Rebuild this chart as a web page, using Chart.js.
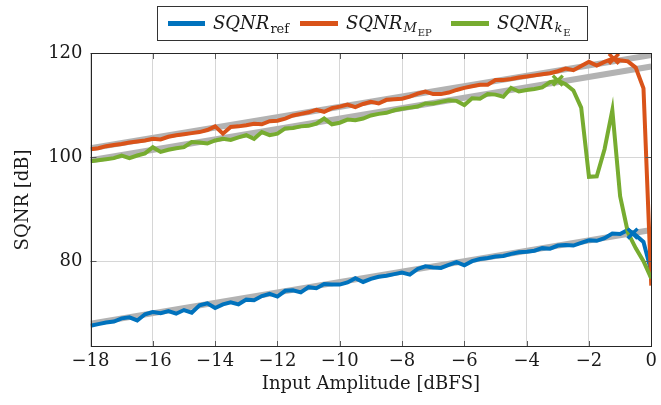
<!DOCTYPE html>
<html>
<head>
<meta charset="utf-8">
<script src="https://cdn.jsdelivr.net/npm/chart.js@4"></script>
<style>
  body { margin: 0; background: #fff; }
  canvas { display: block; }
</style>
</head>
<body>
<canvas id="sqnr-chart" width="661" height="405"></canvas>
<script>
// Input amplitude in dBFS (x values)
const amplitude = [
  -18, -17.75, -17.5, -17.25, -17, -16.75, -16.5, -16.25, -16, -15.75, -15.5, -15.25,
  -15, -14.75, -14.5, -14.25, -14, -13.75, -13.5, -13.25, -13, -12.75, -12.5, -12.25,
  -12, -11.75, -11.5, -11.25, -11, -10.75, -10.5, -10.25, -10, -9.75, -9.5, -9.25,
  -9, -8.75, -8.5, -8.25, -8, -7.75, -7.5, -7.25, -7, -6.75, -6.5, -6.25,
  -6, -5.75, -5.5, -5.25, -5, -4.75, -4.5, -4.25, -4, -3.75, -3.5, -3.25,
  -3, -2.75, -2.5, -2.25, -2, -1.75, -1.5, -1.25, -1, -0.75, -0.5, -0.25, 0
];

// Measured SQNR in dB
const sqnrRef = [
  67.6, 67.9, 68.2, 68.4, 69.0, 69.2, 68.6, 69.8, 70.2, 70.0, 70.4, 69.9,
  70.6, 70.1, 71.5, 71.9, 71.0, 71.7, 72.1, 71.7, 72.6, 72.5, 73.3, 73.7,
  73.2, 74.3, 74.4, 74.0, 75.0, 74.8, 75.6, 75.5, 75.5, 75.9, 76.7, 76.0,
  76.6, 77.0, 77.2, 77.5, 77.8, 77.4, 78.5, 79.0, 78.8, 78.7, 79.3, 79.8,
  79.2, 80.0, 80.4, 80.6, 80.9, 81.0, 81.4, 81.7, 81.8, 82.0, 82.5, 82.4,
  83.0, 83.1, 83.0, 83.5, 84.0, 83.9, 84.4, 85.3, 85.2, 86.0, 85.0, 83.7, 78.0
];
const sqnrMEP = [
  101.5, 101.7, 102.1, 102.3, 102.5, 102.8, 103.0, 103.2, 103.5, 103.4, 103.9, 104.2,
  104.4, 104.6, 104.8, 105.2, 105.9, 104.5, 105.8, 105.9, 106.1, 106.4, 106.3, 106.9,
  107.0, 107.4, 108.0, 108.3, 108.6, 109.1, 108.7, 109.4, 109.7, 110.1, 109.6, 110.2,
  110.6, 110.3, 111.0, 111.1, 111.2, 111.6, 112.2, 112.6, 112.1, 112.1, 112.4, 112.9,
  113.3, 113.6, 113.9, 113.9, 114.8, 114.8, 115.0, 115.3, 115.5, 115.7, 115.9, 116.1,
  116.5, 117.0, 116.7, 117.5, 118.3, 117.6, 118.3, 118.9, 118.6, 118.4, 117.2, 113.2, 75.3
];
const sqnrKE = [
  99.2, 99.4, 99.6, 99.8, 100.3, 99.8, 100.3, 100.7, 101.9, 101.0, 101.4, 101.7,
  101.9, 102.9, 102.8, 102.6, 103.2, 103.5, 103.3, 103.8, 104.2, 103.5, 104.8, 104.2,
  104.5, 105.5, 105.6, 105.9, 106.0, 106.4, 107.4, 106.3, 106.6, 107.2, 107.1, 107.4,
  108.0, 108.3, 108.5, 109.0, 109.3, 109.5, 109.7, 110.3, 110.3, 110.6, 110.9, 110.8,
  110.0, 111.3, 111.2, 112.1, 112.0, 111.6, 113.3, 112.6, 112.9, 113.1, 113.4, 114.4,
  114.7, 114.0, 112.8, 109.5, 96.2, 96.3, 101.5, 109.0, 92.5, 85.5, 82.5, 80.0, 76.7
];

// Theoretical lines (grey)
const theoryX = [-18, 0];
const theoryRef = [68.0, 86.0];
const theoryMEP = [101.7, 119.6];
const theoryKE = [99.4, 117.4];

// Marked points (crosses)
const markRef = { x: -0.6, y: 85.3 };
const markMEP = { x: -1.2, y: 118.9 };
const markKE = { x: -3.0, y: 114.7 };

const xTicks = [-18, -16, -14, -12, -10, -8, -6, -4, -2, 0];
const yTicks = [80, 100, 120];

const BLUE = '#0072bd';
const ORANGE = '#d95319';
const GREEN = '#77ac30';
const GREY = '#b3b3b3';
const FONT = '"DejaVu Serif", serif';

const toPoints = (xs, ys) => xs.map((x, i) => ({ x, y: ys[i] }));

function seriesLine(data, color, order) {
  return { data, borderColor: color, borderWidth: 4, pointRadius: 0, tension: 0, order };
}
function theoryLine(ys) {
  return { data: toPoints(theoryX, ys), borderColor: GREY, borderWidth: 6, pointRadius: 0, order: 10 };
}
function marker(pt, color) {
  return {
    data: [pt], showLine: false, pointStyle: 'crossRot', pointRadius: 7,
    pointBorderWidth: 3.5, borderColor: color, backgroundColor: color, order: 0
  };
}

// Legend with subscripts, drawn on the canvas
const legendItems = [
  { color: BLUE, x0: 168, x1: 205, tx: 213, parts: [
    { text: 'SQNR', style: 'italic', size: 18, dy: 0 },
    { text: 'ref', style: 'normal', size: 13, dy: 4 }] },
  { color: ORANGE, x0: 300, x1: 338, tx: 346, parts: [
    { text: 'SQNR', style: 'italic', size: 18, dy: 0 },
    { text: 'M', style: 'italic', size: 13, dy: 3 },
    { text: 'EP', style: 'normal', size: 10, dy: 7 }] },
  { color: GREEN, x0: 451, x1: 489, tx: 497, parts: [
    { text: 'SQNR', style: 'italic', size: 18, dy: 0 },
    { text: 'k', style: 'italic', size: 13, dy: 3 },
    { text: 'E', style: 'normal', size: 10, dy: 7 }] }
];

const legendPlugin = {
  id: 'texLegend',
  afterDraw(chart) {
    const ctx = chart.ctx;
    ctx.save();
    ctx.fillStyle = '#fff';
    ctx.fillRect(158, 6, 430, 34);
    ctx.strokeStyle = '#333';
    ctx.lineWidth = 1;
    ctx.strokeRect(157.5, 6.5, 430, 34);
    legendItems.forEach(item => {
      ctx.strokeStyle = item.color;
      ctx.lineWidth = 5;
      ctx.beginPath();
      ctx.moveTo(item.x0, 23.5);
      ctx.lineTo(item.x1, 23.5);
      ctx.stroke();
      let x = item.tx;
      ctx.fillStyle = '#1a1a1a';
      ctx.textBaseline = 'alphabetic';
      item.parts.forEach(p => {
        ctx.font = `${p.style} ${p.size}px ${FONT}`;
        ctx.fillText(p.text, x, 29 + p.dy);
        x += ctx.measureText(p.text).width + (p.style === 'italic' ? 1 : 0);
      });
    });
    ctx.restore();
  }
};

// Frame round the plot area plus small inward ticks
const framePlugin = {
  id: 'frame',
  afterDatasetsDraw(chart) {
    const { ctx, chartArea: a, scales } = chart;
    ctx.save();
    ctx.strokeStyle = '#5a5a5a';
    ctx.lineWidth = 1;
    const seg = (x1, y1, x2, y2) => { ctx.beginPath(); ctx.moveTo(x1, y1); ctx.lineTo(x2, y2); ctx.stroke(); };
    xTicks.forEach(v => {
      const px = Math.round(scales.x.getPixelForValue(v)) + 0.5;
      seg(px, a.top, px, a.top + 6);
      seg(px, a.bottom, px, a.bottom - 6);
    });
    yTicks.forEach(v => {
      const py = Math.round(scales.y.getPixelForValue(v)) + 0.5;
      seg(a.left, py, a.left + 6, py);
      seg(a.right, py, a.right - 6, py);
    });
    ctx.strokeStyle = '#262626';
    ctx.strokeRect(Math.round(a.left) + 0.5, Math.round(a.top) + 0.5,
      Math.round(a.width) - 1, Math.round(a.height) - 1);
    ctx.restore();
  }
};

const ctx = document.getElementById('sqnr-chart').getContext('2d');
new Chart(ctx, {
  type: 'line',
  data: {
    datasets: [
      marker(markRef, BLUE),
      marker(markMEP, ORANGE),
      marker(markKE, GREEN),
      seriesLine(toPoints(amplitude, sqnrKE), GREEN, 1),
      seriesLine(toPoints(amplitude, sqnrMEP), ORANGE, 2),
      seriesLine(toPoints(amplitude, sqnrRef), BLUE, 3),
      theoryLine(theoryRef),
      theoryLine(theoryMEP),
      theoryLine(theoryKE)
    ]
  },
  options: {
    responsive: false,
    animation: false,
    layout: { autoPadding: false, padding: { top: 53, right: 5, left: 0, bottom: 0 } },
    plugins: { legend: { display: false }, tooltip: { enabled: false } },
    scales: {
      x: {
        type: 'linear', min: -18, max: 0,
        afterFit: s => { s.height = 58; },
        afterBuildTicks: s => { s.ticks = xTicks.map(v => ({ value: v })); },
        ticks: {
          padding: 4, color: '#1a1a1a', font: { family: FONT, size: 18 },
          callback: v => String(v).replace('-', '\u2212')
        },
        grid: { color: '#d6d6d6', drawTicks: false },
        border: { display: false },
        title: {
          display: true, text: 'Input Amplitude [dBFS]', color: '#1a1a1a',
          font: { family: FONT, size: 18 }, padding: { top: 0, bottom: 10 }
        }
      },
      y: {
        min: 63.5, max: 120,
        afterFit: s => { s.width = 90.5; },
        afterBuildTicks: s => { s.ticks = yTicks.map(v => ({ value: v })); },
        ticks: { padding: 8, color: '#1a1a1a', font: { family: FONT, size: 18 } },
        grid: { color: '#d6d6d6', drawTicks: false },
        border: { display: false },
        title: {
          display: true, text: 'SQNR [dB]', color: '#1a1a1a',
          font: { family: FONT, size: 18 }, padding: { top: 13, bottom: 0 }
        }
      }
    }
  },
  plugins: [framePlugin, legendPlugin]
});
</script>
</body>
</html>
